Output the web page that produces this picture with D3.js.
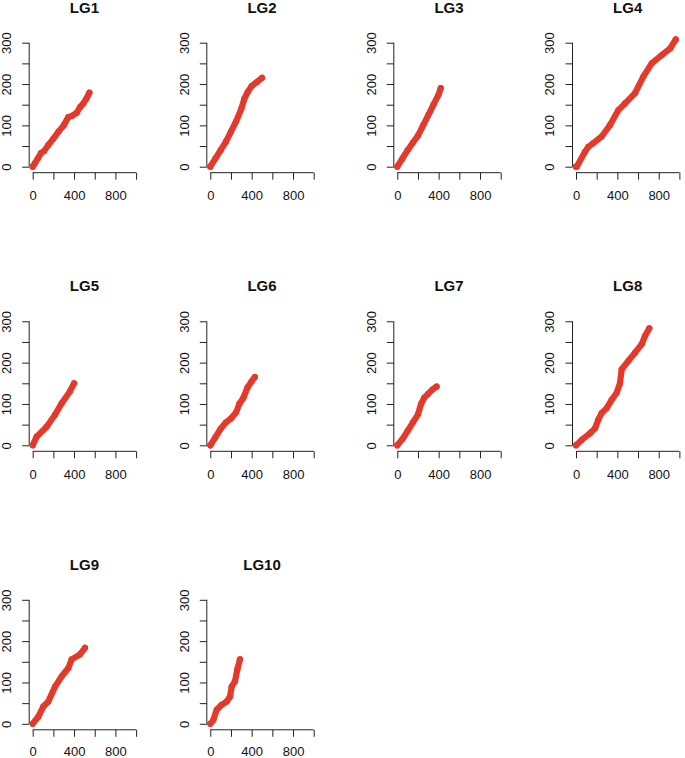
<!DOCTYPE html>
<html><head><meta charset="utf-8">
<script src="https://cdn.jsdelivr.net/npm/d3@7"></script>
<style>body{margin:0;background:#fff}svg{display:block}text{font-family:"Liberation Sans",Arial,sans-serif}</style>
</head><body><div id="chart"></div>
<script>
const panelNames = ["LG1","LG2","LG3","LG4","LG5","LG6","LG7","LG8","LG9","LG10"];
const xTicks = [0,200,400,600,800,1000];
const xTickLabels = ["0","","400","","800",""];
const yTicks = [0,50,100,150,200,250,300];
const yTickLabels = ["0","","100","","200","","300"];

const lg1X = [0,20,50,80,110,150,200,250,300,345,380,425,460,490,520,548];
const lg1Y = [0,8,20,33,38,52,68,85,100,120,123,130,145,153,165,179];
const lg2X = [0,50,100,150,200,250,300,330,360,400,450,500];
const lg2Y = [0,20,40,60,85,110,140,165,180,195,205,215];
const lg3X = [0,50,100,150,200,250,300,350,400,420];
const lg3Y = [0,20,40,58,75,100,125,150,175,190];
const lg4X = [0,7,87,119,167,248,329,410,474,571,651,732,829,910,965];
const lg4Y = [0,0,36,48,57,73,101,137,153,178,218,250,270,286,308];
const lg5X = [0,39,135,216,281,361,400];
const lg5Y = [0,21,45,74,102,131,150];
const lg6X = [0,50,100,150,200,250,280,320,360,400,430];
const lg6Y = [0,20,40,55,65,80,100,115,140,155,165];
const lg7X = [0,50,100,150,200,230,260,300,340,380];
const lg7Y = [0,15,35,55,75,100,115,125,135,142];
const lg8X = [0,55,135,184,216,248,297,345,394,426,442,506,571,636,668,709];
const lg8Y = [0,13,29,41,62,78,90,110,127,151,184,204,224,245,265,283];
const lg9X = [0,54,103,151,216,281,345,377,458,506];
const lg9Y = [0,17,42,54,90,115,135,156,168,184];
const lg10X = [0,29,62,110,159,191,207,239,261,287];
const lg10Y = [0,9,34,46,54,66,90,103,131,156];

const seriesX = [lg1X,lg2X,lg3X,lg4X,lg5X,lg6X,lg7X,lg8X,lg9X,lg10X];
const seriesY = [lg1Y,lg2Y,lg3Y,lg4Y,lg5Y,lg6Y,lg7Y,lg8Y,lg9Y,lg10Y];

const W = 685, H = 758;
const colX0 = [32.7, 210.3, 397.3, 576];
const rowY0 = [166.7, 445.3, 723.8];
const rowPad = [11.5, 11.5, 10];
const xSpan = 103.4, ySpan = 124;
const red = "#E5392B";
const axisCol = "#222";
const fontFam = '"Liberation Sans",Arial,sans-serif';

const svg = d3.select("#chart").append("svg").attr("width", W).attr("height", H);

panelNames.forEach((name, i) => {
  const r = Math.floor(i / 4), c = i % 4;
  const x = d3.scaleLinear().domain([0, 1000]).range([colX0[c], colX0[c] + xSpan]);
  const y = d3.scaleLinear().domain([0, 300]).range([rowY0[r], rowY0[r] - ySpan]);
  const g = svg.append("g");

  // x axis
  const xAxisY = rowY0[r] + 6;
  const xa = g.append("g").attr("transform", `translate(0,${xAxisY})`)
    .call(d3.axisBottom(x).tickValues(xTicks).tickFormat((d, k) => xTickLabels[k]).tickSize(7).tickSizeOuter(0).tickPadding(rowPad[r]));
  xa.select(".domain").attr("stroke", axisCol).attr("stroke-width", 1).attr("d", `M${x(0)},0H${x(1000)}`);
  xa.selectAll(".tick line").attr("stroke", axisCol);
  xa.selectAll(".tick text").attr("font-size", 13).attr("fill", "#111").style("font-family", fontFam);

  // y axis
  const yAxisX = colX0[c] - 3.5;
  const ya = g.append("g").attr("transform", `translate(${yAxisX},0)`)
    .call(d3.axisLeft(y).tickValues(yTicks).tickFormat((d, k) => yTickLabels[k]).tickSize(7).tickSizeOuter(0));
  ya.select(".domain").attr("stroke", axisCol).attr("stroke-width", 1).attr("d", `M0,${y(0)}V${y(300)}`);
  ya.selectAll(".tick line").attr("stroke", axisCol);
  ya.selectAll(".tick text")
    .attr("font-size", 13).attr("fill", "#111")
    .attr("x", null)
    .attr("text-anchor", "middle")
    .attr("transform", "translate(-22.6,0) rotate(-90)")
    .attr("dy", "0.35em")
    .style("font-family", fontFam);

  // title
  g.append("text").attr("x", x(500)).attr("y", y(300) - 30)
    .attr("text-anchor", "middle").attr("font-size", 15).attr("font-weight", "bold")
    .attr("fill", "#111").text(name);

  const pts = seriesX[i].map((v, k) => [v, seriesY[i][k]]);
  g.append("path").datum(pts)
    .attr("d", d3.line().x(d => x(d[0])).y(d => y(d[1])))
    .attr("fill", "none").attr("stroke", red).attr("stroke-width", 6.2)
    .attr("stroke-linecap", "round").attr("stroke-linejoin", "round");
  g.selectAll("circle.p").data(pts).join("circle")
    .attr("cx", d => x(d[0])).attr("cy", d => y(d[1])).attr("r", 3.1).attr("fill", red);
});
</script></body></html>
